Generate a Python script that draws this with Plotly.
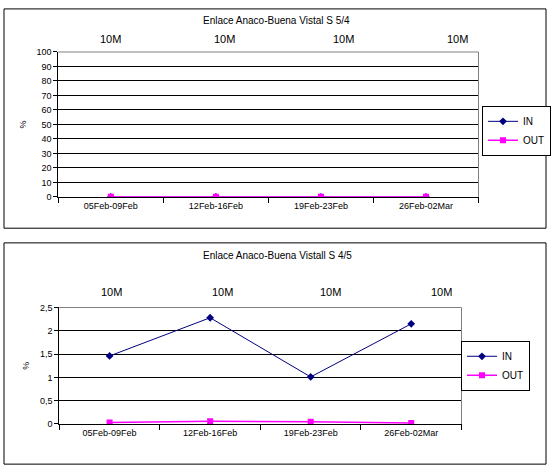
import plotly.graph_objects as go

W, H = 553, 475

categories = ["05Feb-09Feb", "12Feb-16Feb", "19Feb-23Feb", "26Feb-02Mar"]
top_labels = ["10M", "10M", "10M", "10M"]

title1 = "Enlace Anaco-Buena Vistal S 5/4"
in1 = [0, 0, 0, 0]
out1 = [0, 0, 0, 0]
yticks1 = [0, 10, 20, 30, 40, 50, 60, 70, 80, 90, 100]

title2 = "Enlace Anaco-Buena Vistall S 4/5"
in2 = [1.46, 2.28, 1.01, 2.15]
out2 = [0.03, 0.06, 0.05, 0.02]
yticks2 = [0, 0.5, 1, 1.5, 2, 2.5]
yticktext2 = ["0", "0,5", "1", "1,5", "2", "2,5"]

FONT = "Liberation Sans, Arial, sans-serif"
NAVY = "#000080"
MAG = "#FF00FF"

def px(x):
    return x / W

def py(y):
    return 1 - y / H

fig = go.Figure()

# top chart
fig.add_trace(go.Scatter(x=categories, y=in1, name="IN", mode="lines+markers",
                         line=dict(color=NAVY, width=1),
                         marker=dict(symbol="diamond", size=6, color=NAVY),
                         xaxis="x", yaxis="y", legend="legend"))
fig.add_trace(go.Scatter(x=categories, y=out1, name="OUT", mode="lines+markers",
                         line=dict(color=MAG, width=1.5),
                         marker=dict(symbol="square", size=6, color=MAG),
                         xaxis="x", yaxis="y", legend="legend"))
# bottom chart
fig.add_trace(go.Scatter(x=categories, y=in2, name="IN", mode="lines+markers",
                         line=dict(color=NAVY, width=1),
                         marker=dict(symbol="diamond", size=6, color=NAVY),
                         xaxis="x2", yaxis="y2", legend="legend2"))
fig.add_trace(go.Scatter(x=categories, y=out2, name="OUT", mode="lines+markers",
                         line=dict(color=MAG, width=1.5),
                         marker=dict(symbol="square", size=6, color=MAG),
                         xaxis="x2", yaxis="y2", legend="legend2"))

xcommon = dict(type="category", tickson="boundaries", ticks="outside", ticklen=5,
               tickcolor="black", showline=True, linecolor="black", linewidth=1,
               showgrid=False, zeroline=False, range=[-0.5, 3.5],
               tickfont=dict(family=FONT, size=9, color="black"), fixedrange=True)
ycommon = dict(ticks="outside", ticklen=4, tickcolor="black", showline=True,
               linecolor="black", linewidth=1, showgrid=True, gridcolor="black",
               gridwidth=1, zeroline=False,
               tickfont=dict(family=FONT, size=9, color="black"),
               title=dict(text="%", font=dict(family=FONT, size=9, color="black"), standoff=8))

legcommon = dict(xanchor="left", yanchor="top", bordercolor="black", borderwidth=1,
                 bgcolor="white", font=dict(family=FONT, size=10, color="black"),
                 itemwidth=30, tracegroupgap=0)

fig.update_layout(
    width=W, height=H, margin=dict(l=0, r=0, t=0, b=0),
    paper_bgcolor="white", plot_bgcolor="white",
    font=dict(family=FONT, color="black"),
    xaxis=dict(xcommon, domain=[px(58.3), px(478.5)], anchor="y"),
    yaxis=dict(ycommon, domain=[py(196), py(48)], anchor="x", range=[0, 100],
               tickvals=yticks1),
    xaxis2=dict(xcommon, domain=[px(59.3), px(461.5)], anchor="y2"),
    yaxis2=dict(ycommon, domain=[py(428), py(309)], anchor="x2", range=[0, 2.5],
                tickvals=yticks2, ticktext=yticktext2),
    legend=dict(legcommon, x=px(482), y=py(103)),
    legend2=dict(legcommon, x=px(461), y=py(343)),
    showlegend=True,
    hovermode=False,
)

shapes = []
# outer frames
shapes.append(dict(type="rect", xref="paper", yref="paper", x0=px(4), x1=px(546),
                   y0=py(228), y1=py(4), line=dict(color="black", width=1)))
shapes.append(dict(type="rect", xref="paper", yref="paper", x0=px(4), x1=px(546),
                   y0=py(469), y1=py(243), line=dict(color="black", width=1)))
# gray plot-area borders (top and right)
for xa, ya in (("x", "y"), ("x2", "y2")):
    shapes.append(dict(type="line", xref=xa + " domain", yref=ya + " domain",
                       x0=0, x1=1, y0=1, y1=1, line=dict(color="#808080", width=1)))
    shapes.append(dict(type="line", xref=xa + " domain", yref=ya + " domain",
                       x0=1, x1=1, y0=0, y1=1, line=dict(color="#808080", width=1)))
fig.update_layout(shapes=shapes)

ann = []
ann.append(dict(text=title1, x=px(276), y=py(16), xref="paper", yref="paper",
                xanchor="center", yanchor="middle",
                showarrow=False, font=dict(family=FONT, size=10, color="black")))
ann.append(dict(text=title2, x=px(277), y=py(256), xref="paper", yref="paper",
                xanchor="center", yanchor="middle",
                showarrow=False, font=dict(family=FONT, size=10, color="black")))
for lab, xx in zip(top_labels, [110, 224, 343, 457]):
    ann.append(dict(text=lab, x=px(xx), y=py(35), xref="paper", yref="paper",
                    xanchor="center", yanchor="middle",
                    showarrow=False, font=dict(family=FONT, size=11, color="black")))
for lab, xx in zip(top_labels, [111, 222, 330, 441]):
    ann.append(dict(text=lab, x=px(xx), y=py(293), xref="paper", yref="paper",
                    xanchor="center", yanchor="middle",
                    showarrow=False, font=dict(family=FONT, size=11, color="black")))
fig.update_layout(annotations=ann)

fig.write_html("out.html", config={"displayModeBar": False},
               post_script="document.body.style.margin='0';")
